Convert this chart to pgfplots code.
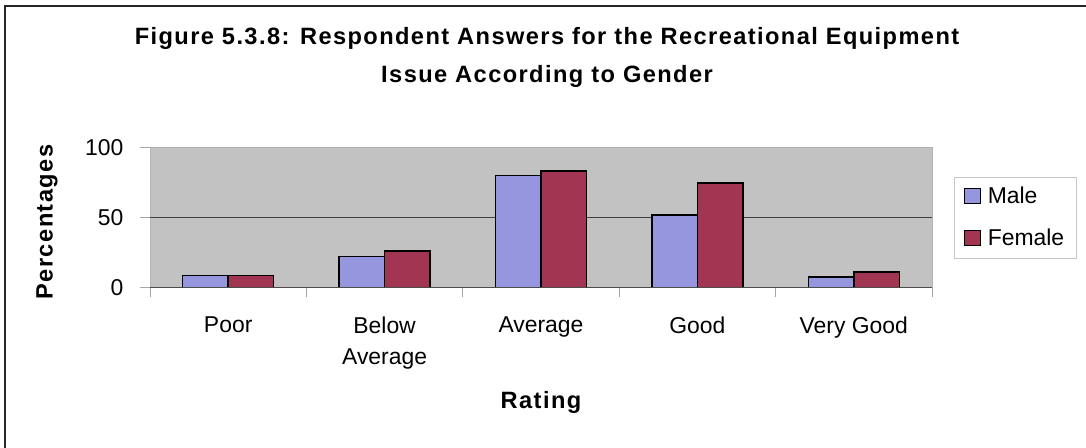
\documentclass[border=0pt]{standalone}
\usepackage{fontspec}
\setmainfont{Liberation Sans}
\newfontfamily\spacedsans[LetterSpace=6]{Liberation Sans}
\usepackage{pgfplots}
\usepackage{pgfplotstable}
\pgfplotsset{compat=1.18}

\definecolor{malefill}{RGB}{150,150,222}
\definecolor{femalefill}{RGB}{162,54,82}
\definecolor{plotbg}{RGB}{194,194,194}

% percentage of respondents per rating, by gender
\pgfplotstableread{
idx male female
0   8.6  8.6
1   22   26
2   80   83
3   51.5 74.5
4   7.5  11
}\ratingdata

\newcommand{\chartfont}{\fontsize{23}{31}\selectfont}
\newcommand{\headfont}{\fontsize{23.7}{31}\selectfont\spacedsans\bfseries}

\begin{document}
\begin{tikzpicture}
\useasboundingbox (0,0) rectangle (1086bp,-448bp);
% outer chart frame (top and left edges)
\draw[line width=1.6bp, black!85] (5bp,-448bp) -- (5bp,-6bp) -- (1086bp,-6bp);
\node[anchor=base, font=\headfont, inner sep=0pt] at (547bp,-44.3bp)
  {Figure 5.3.8: Respondent Answers for the Recreational Equipment};
\node[anchor=base, font=\headfont, inner sep=0pt] at (547bp,-82bp)
  {Issue According to Gender};
\begin{axis}[
  at={(150bp,-287.3bp)}, anchor=south west,
  scale only axis, width=782bp, height=140bp,
  xmin=-0.5, xmax=4.5, ymin=0, ymax=100,
  axis background/.style={fill=plotbg},
  axis line style={draw=gray!60, line width=0.8bp},
  tick align=outside, tick pos=left,
  major tick length=10bp,
  tick style={draw=gray!70, line width=0.8bp},
  ytick={0,50,100},
  xtick={-0.5,0.5,...,4.5}, xticklabels={},
  extra x ticks={0,1,2,3,4},
  extra x tick labels={Poor,{Below\\Average},Average,Good,Very Good},
  extra x tick style={major tick length=0pt,
    tick label style={align=center, anchor=north, yshift=-26bp}},
  /pgf/number format/assume math mode=true,
  every tick label/.append style={font=\chartfont},
  yticklabel style={anchor=east, xshift=-13bp},
  xlabel={Rating}, ylabel={Percentages},
  xlabel style={font=\headfont, at={(axis description cs:0.5,0)},
    anchor=base, yshift=-121bp},
  ylabel style={font=\headfont, at={(axis description cs:-0.1317,0.466)},
    anchor=center},
  legend cell align=left,
  legend style={at={(1,0.5)}, anchor=west, xshift=22bp,
    draw=gray!45, fill=white, font=\chartfont,
    inner xsep=10bp, inner ysep=8.5bp, row sep=20bp,
    /tikz/every even column/.style={column sep=0pt}},
  sqlegend/.style={legend image code/.code={
    \path[draw=none, fill=none] (0bp,0bp) -- (21bp,0bp);
    \draw[##1, line width=1.2bp] (0bp,-7bp) rectangle (16bp,8bp);}},
]
\draw[black!75, line width=1bp] (axis cs:-0.5,50) -- (axis cs:4.5,50);
\addplot[ybar, bar width=45.5bp, bar shift=-22.75bp, fill=malefill,
  draw=black, line width=1.5bp, sqlegend] table[x=idx, y=male] {\ratingdata};
\addplot[ybar, bar width=45.5bp, bar shift=22.75bp, fill=femalefill,
  draw=black, line width=1.5bp, sqlegend] table[x=idx, y=female] {\ratingdata};
\draw[black!70, line width=1.2bp] (axis cs:-0.5,0) -- (axis cs:4.5,0);
\legend{Male, Female}
\end{axis}
\end{tikzpicture}
\end{document}
